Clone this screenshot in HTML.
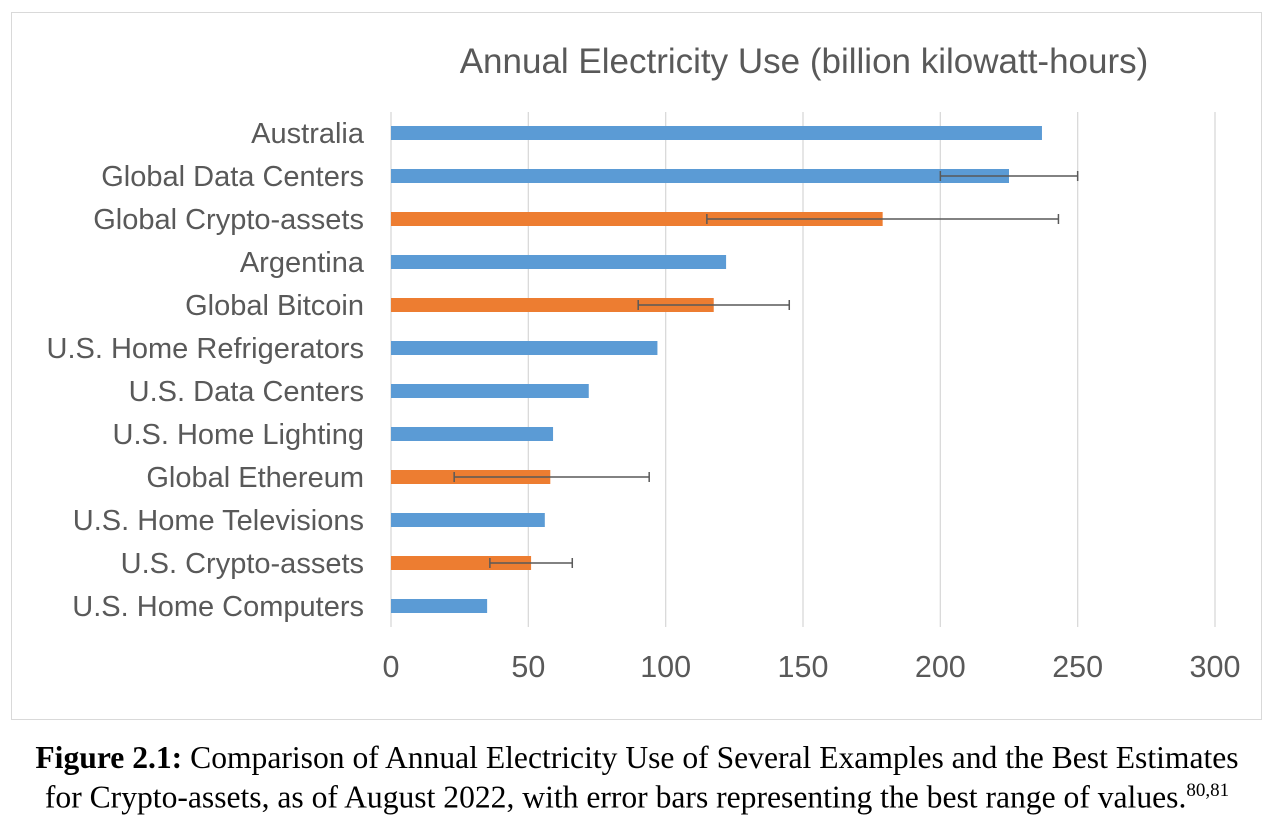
<!DOCTYPE html>
<html><head><meta charset="utf-8"><style>
body{margin:0;background:#fff;width:1274px;height:840px;overflow:hidden;}
#cap{position:absolute;left:0;width:1274px;text-align:center;font-family:"Liberation Serif",serif;font-size:31.6px;line-height:33px;top:741px;color:#000;white-space:nowrap;}
</style></head><body>
<svg id="chart" width="1274" height="740" style="position:absolute;left:0;top:0" font-family="Liberation Sans, sans-serif">
<rect x="11.5" y="12.5" width="1250" height="707" fill="#fff" stroke="#d9d9d9"/>
<text x="804" y="73" text-anchor="middle" font-size="35" fill="#595959">Annual Electricity Use (billion kilowatt-hours)</text>
<g id="grid"></g><g id="bars"></g><g id="labels"></g>
</svg>
<div id="cap"><b>Figure 2.1:</b> Comparison of Annual Electricity Use of Several Examples and the Best Estimates<br>for Crypto-assets, as of August 2022, with error bars representing the best range of values.<sup style="font-size:19px">80,81</sup></div>
<script>
const categories=["Australia","Global Data Centers","Global Crypto-assets","Argentina","Global Bitcoin","U.S. Home Refrigerators","U.S. Data Centers","U.S. Home Lighting","Global Ethereum","U.S. Home Televisions","U.S. Crypto-assets","U.S. Home Computers"];
const values=[237,225,179,122,117.5,97,72,59,58,56,51,35];
const isCrypto=[0,0,1,0,1,0,0,0,1,0,1,0];
const errLow=[null,200,115,null,90,null,null,null,23,null,36,null];
const errHigh=[null,250,243,null,145,null,null,null,94,null,66,null];
const ticks=[0,50,100,150,200,250,300];
const NS="http://www.w3.org/2000/svg";
const x=v=>391+v*(1215-391)/300;
const y=i=>133+i*43;
function mk(t,a,p){const e=document.createElementNS(NS,t);for(const k in a)e.setAttribute(k,a[k]);p.appendChild(e);return e;}
const G=document.getElementById('grid'),B=document.getElementById('bars'),L=document.getElementById('labels');
ticks.forEach(t=>{
 const l=mk('line',{x1:x(t),x2:x(t),y1:112,y2:627,stroke:'#d9d9d9','stroke-width':1.3},G);
 
 
 const tx=mk('text',{x:x(t),y:677,'text-anchor':'middle','font-size':30.5,fill:'#595959'},L);
 tx.textContent=t;
 
 
});
categories.forEach((c,i)=>{
 const r=mk('rect',{x:x(0),y:y(i)-7,width:x(values[i])-x(0),height:14,fill:isCrypto[i]?'#ed7d31':'#5b9bd5'},B);
 
 
 const t=mk('text',{x:364,y:y(i)+10,'text-anchor':'end','font-size':29,fill:'#595959'},L);
 t.textContent=c;
 
 
 if(errLow[i]!=null){
  const g=mk('g',{stroke:'#595959','stroke-width':1.5},B);
  
  
  mk('line',{x1:x(errLow[i]),x2:x(errHigh[i]),y1:y(i),y2:y(i)},g);
  mk('line',{x1:x(errLow[i]),x2:x(errLow[i]),y1:y(i)-5,y2:y(i)+5},g);
  mk('line',{x1:x(errHigh[i]),x2:x(errHigh[i]),y1:y(i)-5,y2:y(i)+5},g);
 }
});
</script>
</body></html>
